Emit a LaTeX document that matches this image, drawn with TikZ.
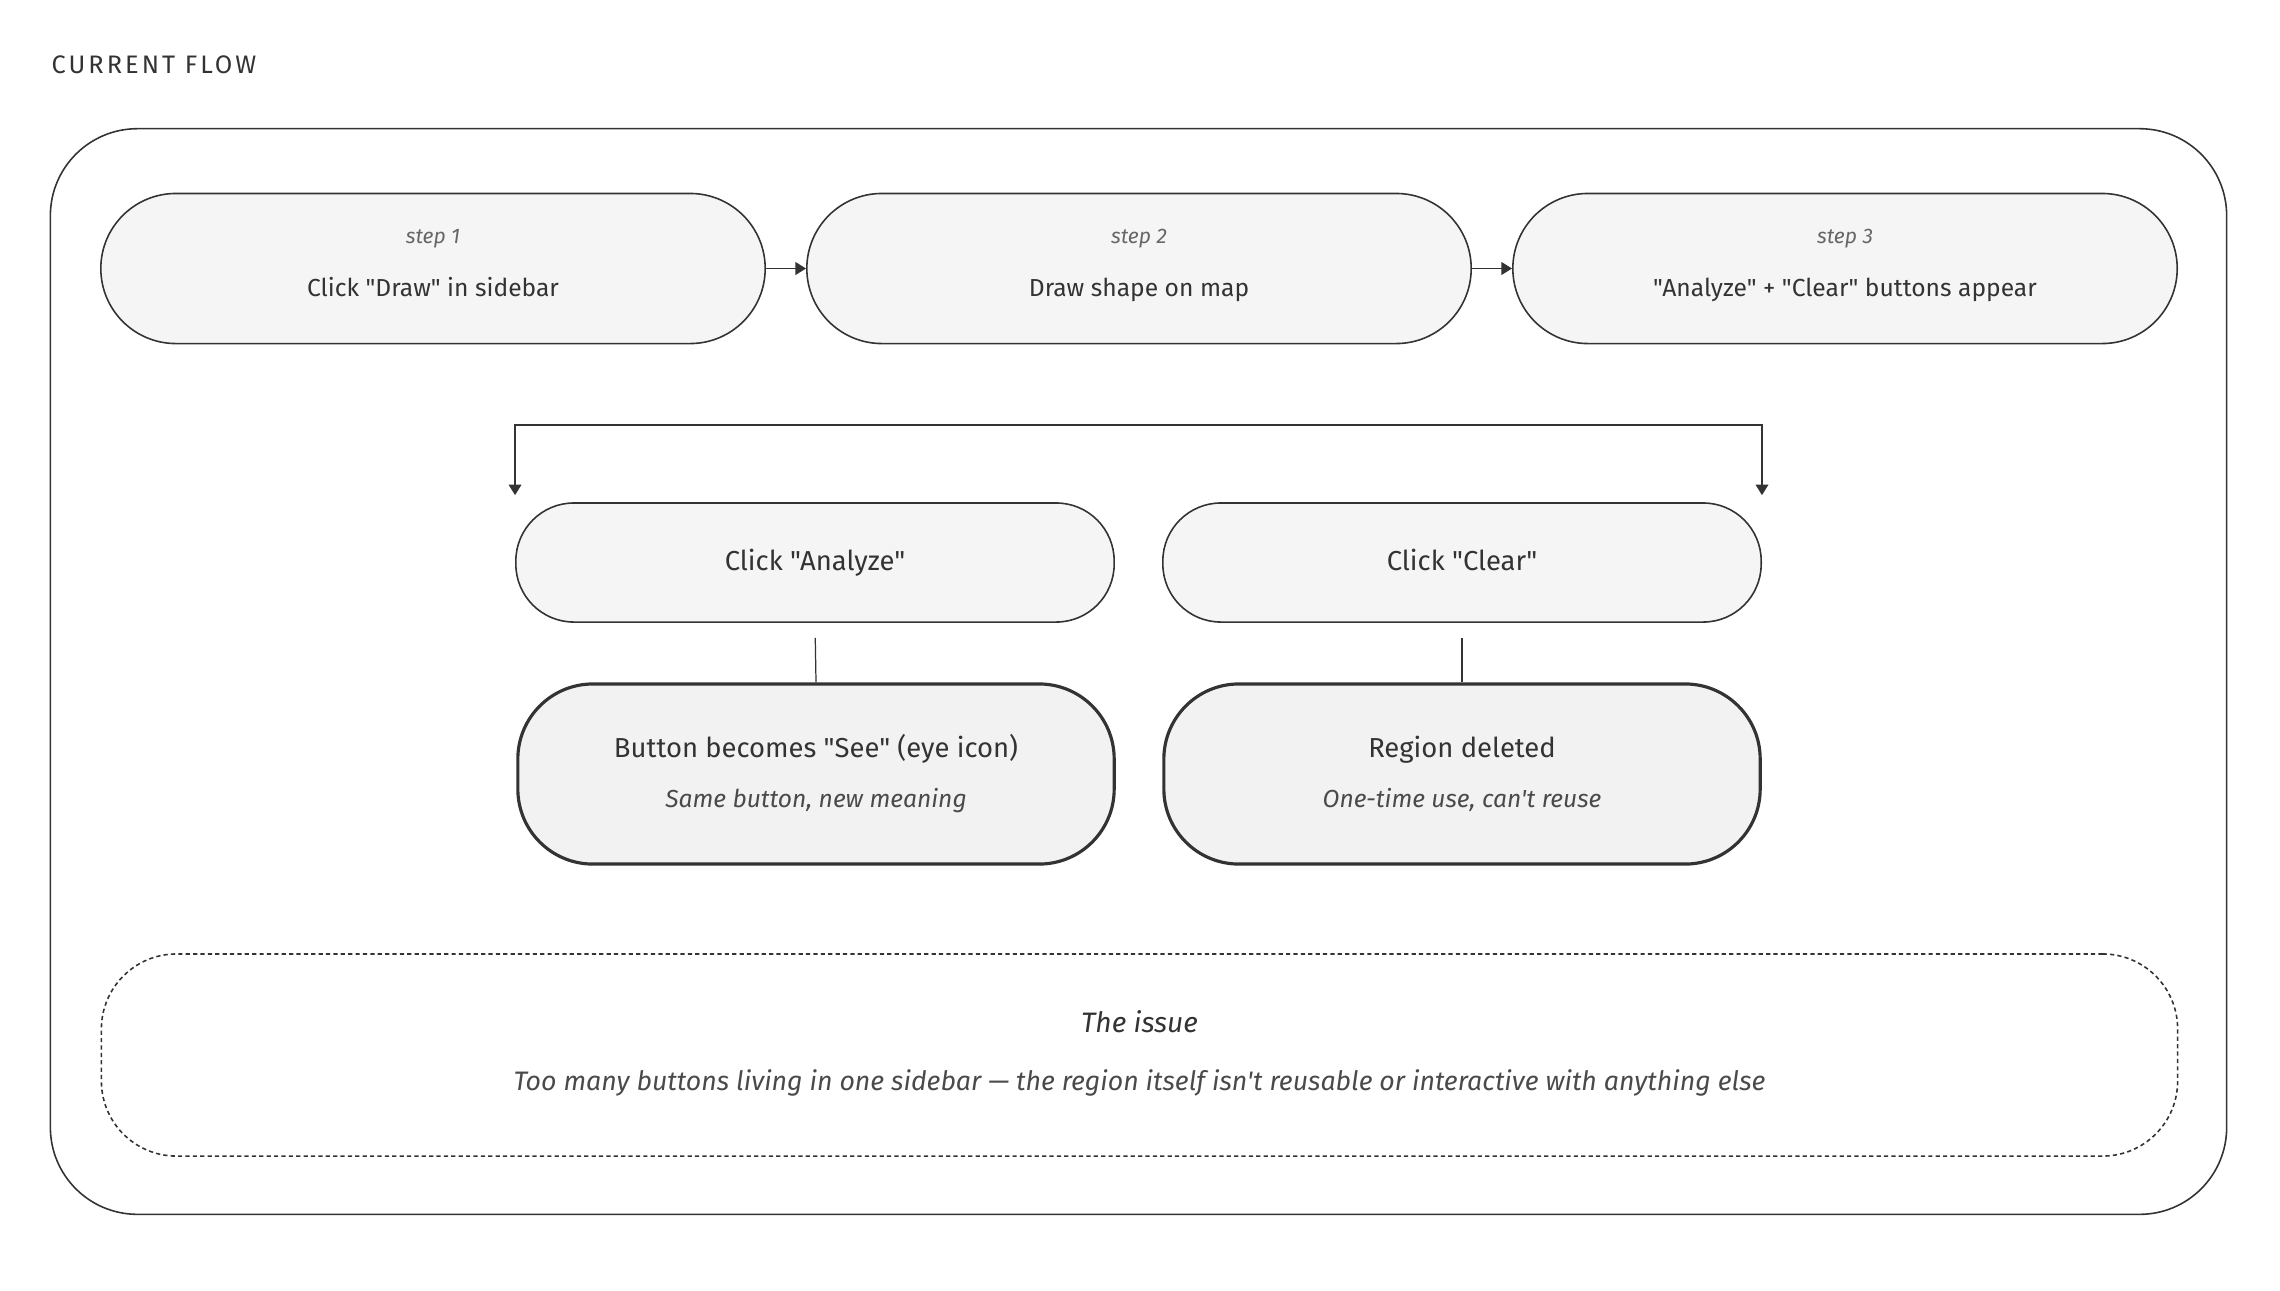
\documentclass[tikz,border=0pt]{standalone}
\usepackage{fontspec}
\setmainfont{Fira Sans}[Ligatures=TeXOff]
\usetikzlibrary{arrows.meta}
\definecolor{ink}{HTML}{333333}
\definecolor{boxfill}{HTML}{F5F5F5}
\definecolor{resfill}{HTML}{F2F2F2}
\definecolor{muted}{HTML}{666666}
\definecolor{soft}{HTML}{4A4A4A}
\begin{document}
\begin{tikzpicture}[x=0.01cm,y=-0.01cm,
  stepbox/.style={draw=ink, fill=boxfill, line width=0.45pt, rounded corners=0.75cm,
    minimum width=6.64cm, minimum height=1.5cm, inner sep=0pt},
  pickbox/.style={stepbox, minimum width=5.98cm, minimum height=1.19cm, rounded corners=0.58cm},
  resbox/.style={stepbox, fill=resfill, line width=0.9pt, minimum width=5.96cm,
    minimum height=1.8cm, rounded corners=0.75cm},
  lbl/.style={font=\fontsize{6}{7}\selectfont\itshape, text=muted, anchor=base, inner sep=0pt},
  txt/.style={font=\fontsize{7}{8}\selectfont, text=ink, anchor=base, inner sep=0pt},
  bigtxt/.style={font=\fontsize{7.8}{9}\selectfont, text=ink, anchor=base, inner sep=0pt},
  subtxt/.style={font=\fontsize{7}{8}\selectfont\itshape, text=soft, anchor=base, inner sep=0pt},
  flow/.style={draw=ink, line width=0.45pt, -{Triangle[length=3pt,width=3.6pt]}},
]
\useasboundingbox (0,0) rectangle (2280,1290);

\node[font=\fontsize{7.2}{8}\selectfont\addfontfeature{LetterSpace=12}, text=ink,
  anchor=base west, inner sep=0pt] (title) at (51,73) {CURRENT FLOW};
\node[draw=ink, line width=0.45pt, rounded corners=0.87cm, minimum width=21.75cm,
  minimum height=10.85cm] (frame) at (1138.5,671.5) {};

% top row
\foreach \lbl/\txt [count=\n] in {
    step 1/Click "Draw" in sidebar,
    step 2/Draw shape on map,
    step 3/"Analyze" + "Clear" buttons appear
  } {
    \node[stepbox] (s\n) at (433+706*\n-706,268.5) {};
    \node[lbl] (s\n lbl) at (433+706*\n-706,243) {\lbl};
    \node[txt] (s\n txt) at (433+706*\n-706,296) {\txt};
  }
\draw[flow] (s1) -- (s2);
\draw[flow] (s2) -- (s3);

% branches
\coordinate (fork) at (1138.5,425);
\node[pickbox] (ca) at (815,562.5) {};
\node[bigtxt] (ca txt) at (815,570) {Click "Analyze"};
\node[pickbox] (cc) at (1462,562.5) {};
\node[bigtxt] (cc txt) at (1462,570) {Click "Clear"};
\draw[flow, shorten >=2pt] (fork) -| (ca.north west);
\draw[flow, shorten >=2pt] (fork) -| (cc.north east);

\node[resbox] (ra) at (816,774) {};
\node[bigtxt] (ra txt) at (816,757) {Button becomes "See" (eye icon)};
\node[subtxt] (ra sub) at (816,807) {Same button, new meaning};
\node[resbox] (rc) at (1462,774) {};
\node[bigtxt] (rc txt) at (1462,757) {Region deleted};
\node[subtxt] (rc sub) at (1462,807) {One-time use, can't reuse};
\draw[ink, line width=0.35pt, shorten <=0.15cm] (ca.south) -- (ra.north);
\draw[ink, line width=0.35pt, shorten <=0.15cm] (cc.south) -- (rc.north);

% issue
\node[draw=ink, line width=0.45pt, dash pattern=on 1.2pt off 0.9pt, rounded corners=0.75cm,
  minimum width=20.75cm, minimum height=2.02cm] (issue) at (1139.5,1055) {};
\node[txt, font=\fontsize{8}{9}\selectfont\itshape] (issue head) at (1139.5,1032) {The issue};
\node[subtxt, font=\fontsize{7.6}{9}\selectfont\itshape] (issue txt) at (1139.5,1090)
  {Too many buttons living in one sidebar — the region itself isn't reusable or interactive with anything else};
\end{tikzpicture}
\end{document}
